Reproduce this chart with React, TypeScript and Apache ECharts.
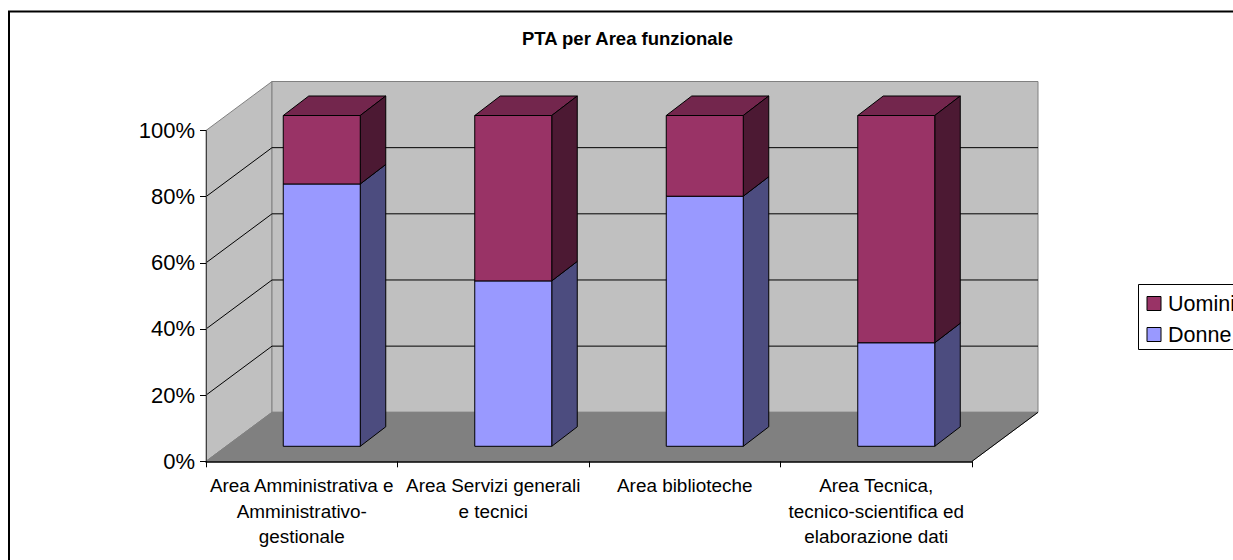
import React, { useEffect, useRef } from "react";
import * as echarts from "echarts";

const categories = [
  "Area Amministrativa e\nAmministrativo-\ngestionale",
  "Area Servizi generali\ne tecnici",
  "Area biblioteche",
  "Area Tecnica,\ntecnico-scientifica ed\nelaborazione dati",
];
const donne = [79.3, 50, 75.6, 31.3];
const uomini = [20.7, 50, 24.4, 68.7];
const yTicks = [0, 20, 40, 60, 80, 100];

const FONT = "'Liberation Sans', Arial, sans-serif";
const DEPTH_X = 66;
const DEPTH_Y = -49;
const BAR_OFF_X = 20;
const BAR_OFF_Y = -15;
const BAR_DEPTH_X = 25.5;
const BAR_DEPTH_Y = -19.5;
const BAR_W = 77;

const poly = (points: number[][], fill: string, stroke: string) => ({
  type: "polygon",
  shape: { points },
  style: { fill, stroke, lineWidth: 1 },
  silent: true,
});
const line = (a: number[], b: number[], stroke: string, lineWidth = 1) => ({
  type: "line",
  shape: { x1: a[0], y1: a[1], x2: b[0], y2: b[1] },
  style: { stroke, lineWidth, fill: "none" },
  silent: true,
});

const renderFrame = (_: any, api: any) => {
  const band = api.size([1, 0])[0];
  const c0 = api.coord([0, 0]);
  const c100 = api.coord([0, 100]);
  const xl = c0[0] - band / 2;
  const xr = xl + band * categories.length;
  const y0 = c0[1];
  const y1 = c100[1];
  const children: any[] = [
    poly([[xl, y0], [xl + DEPTH_X, y0 + DEPTH_Y], [xl + DEPTH_X, y1 + DEPTH_Y], [xl, y1]], "#C0C0C0", "#808080"),
    poly([[xl + DEPTH_X, y0 + DEPTH_Y], [xr + DEPTH_X, y0 + DEPTH_Y], [xr + DEPTH_X, y1 + DEPTH_Y], [xl + DEPTH_X, y1 + DEPTH_Y]], "#C0C0C0", "#808080"),
    poly([[xl, y0], [xr, y0], [xr + DEPTH_X, y0 + DEPTH_Y], [xl + DEPTH_X, y0 + DEPTH_Y]], "#808080", "#808080"),
    line([xr, y0], [xr + DEPTH_X, y0 + DEPTH_Y], "#000000"),
  ];
  yTicks.slice(1, -1).forEach((t) => {
    const y = api.coord([0, t])[1];
    children.push(line([xl, y], [xl + DEPTH_X, y + DEPTH_Y], "#000000"));
    children.push(line([xl + DEPTH_X, y + DEPTH_Y], [xr + DEPTH_X, y + DEPTH_Y], "#000000"));
  });
  return { type: "group", children };
};

const renderBar = (front: string, top: string, side: string) => (_: any, api: any) => {
  const cat = api.value(0);
  const c = api.coord([cat, api.value(1)]);
  const d = api.coord([cat, api.value(2)]);
  const x0 = c[0] - BAR_W / 2 + BAR_OFF_X;
  const x1 = x0 + BAR_W;
  const yb = c[1] + BAR_OFF_Y;
  const yt = d[1] + BAR_OFF_Y;
  return {
    type: "group",
    children: [
      poly([[x0, yt], [x1, yt], [x1 + BAR_DEPTH_X, yt + BAR_DEPTH_Y], [x0 + BAR_DEPTH_X, yt + BAR_DEPTH_Y]], top, "#000000"),
      poly([[x1, yb], [x1 + BAR_DEPTH_X, yb + BAR_DEPTH_Y], [x1 + BAR_DEPTH_X, yt + BAR_DEPTH_Y], [x1, yt]], side, "#000000"),
      poly([[x0, yb], [x1, yb], [x1, yt], [x0, yt]], front, "#000000"),
    ],
  };
};

export default function App() {
  const ref = useRef<HTMLDivElement>(null);
  useEffect(() => {
    const chart = echarts.init(ref.current!, undefined, { renderer: "svg" });
    chart.setOption({
      animation: false,
      backgroundColor: "#ffffff",
      title: {
        text: "PTA per Area funzionale",
        left: 622.5,
        textAlign: "center",
        top: 24,
        textStyle: { fontFamily: FONT, fontSize: 18.5, fontWeight: "bold", color: "#000000" },
      },
      grid: { left: 206, top: 130.5, width: 766, height: 330.8 },
      legend: {
        left: 1138.5,
        top: 284.5,
        orient: "vertical",
        data: ["Uomini", "Donne"],
        padding: [8, 8, 4, 8],
        itemGap: 9,
        itemWidth: 14,
        itemHeight: 14,
        backgroundColor: "#ffffff",
        borderColor: "#000000",
        borderWidth: 1,
        borderRadius: 0,
        icon: "rect",
        textStyle: { fontFamily: FONT, fontSize: 21.5, color: "#000000", padding: [0, 0, 0, 2] },
        itemStyle: { borderColor: "#000000", borderWidth: 1 },
      },
      xAxis: {
        type: "category",
        data: categories,
        z: 5,
        axisLine: { lineStyle: { color: "#000000", width: 1.5 } },
        axisTick: { show: true, alignWithLabel: false, length: 6, lineStyle: { color: "#000000" } },
        axisLabel: {
          interval: 0,
          margin: 11.5,
          fontFamily: FONT,
          fontSize: 18.9,
          lineHeight: 25.5,
          color: "#000000",
          align: "center",
        },
      },
      yAxis: {
        type: "value",
        min: 0,
        max: 100,
        interval: 20,
        z: 5,
        splitLine: { show: false },
        axisLine: { show: true, lineStyle: { color: "#404040", width: 1 } },
        axisTick: { show: true, length: 6, lineStyle: { color: "#000000" } },
        axisLabel: { formatter: "{value}%", margin: 11, fontFamily: FONT, fontSize: 22, color: "#000000" },
      },
      graphic: [
        {
          type: "polyline",
          silent: true,
          z: 10,
          shape: { points: [[9, 560], [9, 11.5], [1233, 11.5]] },
          style: { stroke: "#000000", lineWidth: 2, fill: "none" },
        },
      ],
      series: [
        {
          type: "custom",
          name: "frame",
          silent: true,
          z: 1,
          renderItem: renderFrame,
          encode: { x: 0, y: 1 },
          data: [[0, 100]],
        },
        {
          type: "custom",
          name: "Donne",
          z: 2,
          itemStyle: { color: "#9999FF" },
          renderItem: renderBar("#9999FF", "#73739F", "#4C4C7F"),
          encode: { x: 0, y: [1, 2] },
          data: donne.map((v, i) => [i, 0, v]),
        },
        {
          type: "custom",
          name: "Uomini",
          z: 3,
          itemStyle: { color: "#993366" },
          renderItem: renderBar("#993366", "#73264D", "#4C1933"),
          encode: { x: 0, y: [1, 2] },
          data: uomini.map((v, i) => [i, donne[i], donne[i] + v]),
        },
      ],
    });
    return () => chart.dispose();
  }, []);
  return (
    <div
      ref={ref}
      style={{ position: "fixed", left: 0, top: 0, width: 1233, height: 560 }}
    />
  );
}
